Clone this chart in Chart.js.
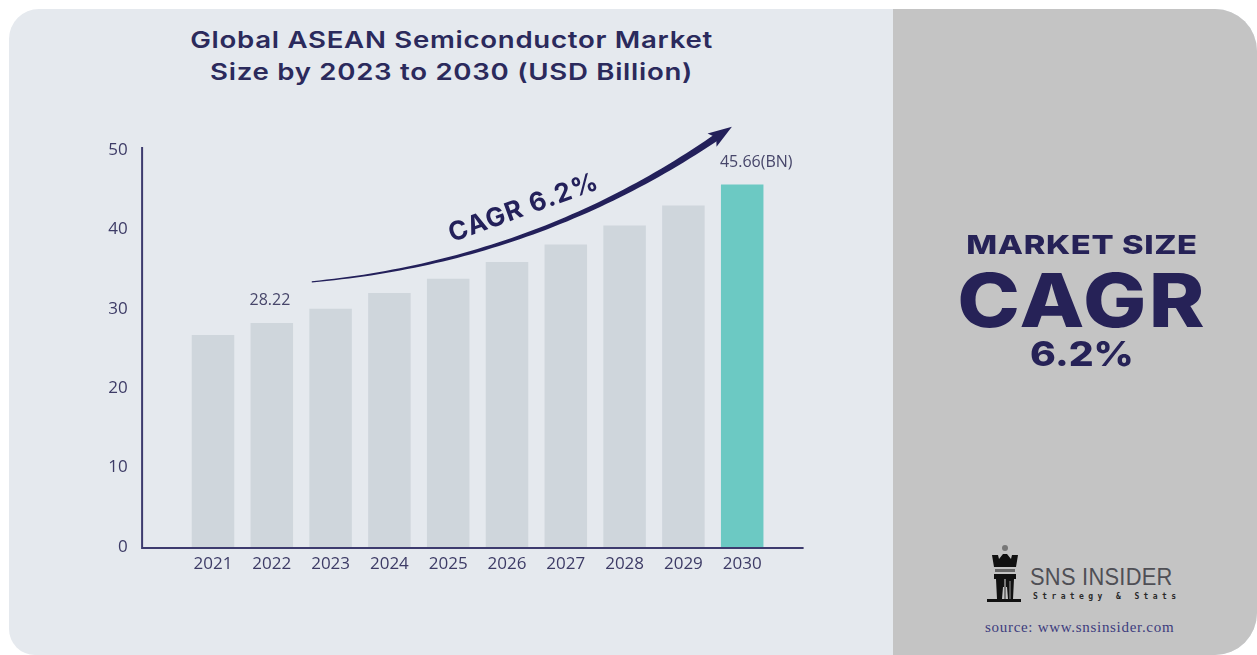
<!DOCTYPE html>
<html>
<head>
<meta charset="utf-8">
<title>Global ASEAN Semiconductor Market</title>
<script src="https://cdn.jsdelivr.net/npm/chart.js@4.4.1/dist/chart.umd.min.js"></script>
<style>
  html, body { margin: 0; padding: 0; background: #ffffff; }
  body { width: 1257px; height: 655px; position: relative; overflow: hidden; font-family: Inter, "Open Sans", sans-serif; }
  .card { position: absolute; left: 9px; top: 9px; width: 1248px; height: 646px; background: #e5e9ee;
          border-radius: 30px 42px 42px 26px; overflow: hidden; }
  .side { position: absolute; left: 884px; top: 0; right: 0; bottom: 0; background: #c4c4c4; }
  .title { position: absolute; left: 0; width: 903px; top: 24px; text-align: center; color: #2b2a5c;
           font-weight: 600; font-size: 23px; line-height: 32px; letter-spacing: 0.6px;
           transform: scaleX(1.2); transform-origin: 451px 0; }
  #wrap { position: absolute; left: 0; top: 0; width: 892px; height: 655px; }
  .big { position: absolute; left: 893px; width: 378px; text-align: center; color: #262257; font-weight: 800;
         transform-origin: 189px 0; }
  .logo-t { position: absolute; left: 1030px; top: 563px; font-family: "Liberation Sans", sans-serif; font-size: 24px;
            color: #4f4f55; transform: scaleX(0.91); transform-origin: left top; letter-spacing: 0.3px; }
  .logo-s { position: absolute; left: 1033px; top: 592px; font-family: "DejaVu Sans Mono", monospace; font-size: 8px;
            font-weight: bold; color: #2a2a2a; letter-spacing: 4.4px; }
  .src { position: absolute; left: 985px; top: 619px; font-family: "Liberation Serif", serif; font-size: 15px;
         letter-spacing: 0.7px; color: #3d3c7e; }
</style>
</head>
<body>
<div class="card"><div class="side"></div></div>
<div class="title">Global ASEAN Semiconductor Market<br>Size by 2023 to 2030 (USD Billion)</div>
<div id="wrap"><canvas id="chart" width="892" height="655"></canvas></div>

<div class="big" style="top:229px;font-size:26px;letter-spacing:0.5px;transform:scaleX(1.26);">MARKET SIZE</div>
<div class="big" style="top:257px;font-size:74px;line-height:86px;letter-spacing:2px;transform:scaleX(1.14);">CAGR</div>
<div class="big" style="top:334px;font-size:34px;line-height:40px;transform:scaleX(1.15);">6.2%</div>

<svg style="position:absolute;left:986px;top:543px" width="42" height="64" viewBox="0 0 42 64">
  <circle cx="19" cy="5" r="3" fill="#777"/>
  <path d="M6 12 L12 12 L13 16 L17 11 L21 11 L25 16 L26 12 L32 12 L30 24 L8 24 Z" fill="#111"/>
  <rect x="9" y="26" width="20" height="3" fill="#666"/>
  <rect x="8" y="31" width="22" height="5" fill="#111"/>
  <path d="M10 36 L28 36 L27 56 L22 56 L21 44 L17 44 L16 56 L11 56 Z" fill="#111"/>
  <rect x="18" y="36" width="2" height="22" fill="#777"/>
  <rect x="23" y="38" width="2" height="20" fill="#555"/>
  <rect x="1" y="56" width="34" height="3" fill="#111"/>
</svg>
<div class="logo-t">SNS INSIDER</div>
<div class="logo-s">Strategy &amp; Stats</div>
<div class="src">source: www.snsinsider.com</div>

<script>
  var years = ["2021", "2022", "2023", "2024", "2025", "2026", "2027", "2028", "2029", "2030"];
  var marketSize = [26.7, 28.22, 30.0, 32.0, 33.8, 35.9, 38.1, 40.5, 43.0, 45.66];
  var valueLabels = ["", "28.22", "", "", "", "", "", "", "", "45.66(BN)"];
  var yTicks = [0, 10, 20, 30, 40, 50];
  var cagrText = "CAGR 6.2%";

  var barColors = years.map(function (y, i) {
    return i === years.length - 1 ? "#6cc9c3" : "#cfd6dc";
  });

  var axisLines = {
    id: "axisLines",
    afterDraw: function (chart) {
      var ctx = chart.ctx, a = chart.chartArea;
      ctx.save();
      ctx.strokeStyle = "#3d3b6e";
      ctx.lineWidth = 2;
      ctx.beginPath();
      ctx.moveTo(a.left - 41.5, a.top - 3);
      ctx.lineTo(a.left - 41.5, a.bottom + 1);
      ctx.lineTo(a.right + 32, a.bottom + 1);
      ctx.stroke();
      ctx.restore();
    }
  };

  var barLabels = {
    id: "barLabels",
    afterDatasetsDraw: function (chart) {
      var ctx = chart.ctx;
      var meta = chart.getDatasetMeta(0);
      ctx.save();
      ctx.font = "16px 'Open Sans'";
      ctx.fillStyle = "#47466a";
      ctx.textAlign = "left";
      ctx.textBaseline = "bottom";
      meta.data.forEach(function (bar, i) {
        if (!valueLabels[i]) return;
        ctx.fillText(valueLabels[i], bar.x - bar.width / 2 - 1, bar.y - 14);
      });
      ctx.restore();
    }
  };

  // tapered growth arrow with the CAGR caption
  var cagrArrow = {
    id: "cagrArrow",
    afterDraw: function (chart) {
      var ctx = chart.ctx, x = chart.scales.x, y = chart.scales.y;
      var p0 = { x: x.getPixelForValue(1.68), y: y.getPixelForValue(33.4) };
      var p1 = { x: x.getPixelForValue(5.5), y: y.getPixelForValue(36.0) };
      var p2 = { x: x.getPixelForValue(8.6), y: y.getPixelForValue(51.8) };
      function pt(t) {
        var u = 1 - t;
        return { x: u * u * p0.x + 2 * u * t * p1.x + t * t * p2.x, y: u * u * p0.y + 2 * u * t * p1.y + t * t * p2.y };
      }
      var top = [], bot = [], n = 60;
      for (var i = 0; i <= n; i++) {
        var t = i / n, a = pt(t), b = pt(Math.min(1, t + 0.001)), c = pt(Math.max(0, t - 0.001));
        var dx = b.x - c.x, dy = b.y - c.y, len = Math.sqrt(dx * dx + dy * dy);
        var w = 0.6 + 2.8 * t;
        top.push({ x: a.x + dy / len * w, y: a.y - dx / len * w });
        bot.push({ x: a.x - dy / len * w, y: a.y + dx / len * w });
      }
      ctx.save();
      ctx.fillStyle = "#23205a";
      ctx.beginPath();
      ctx.moveTo(top[0].x, top[0].y);
      top.forEach(function (p) { ctx.lineTo(p.x, p.y); });
      for (var j = bot.length - 1; j >= 0; j--) ctx.lineTo(bot[j].x, bot[j].y);
      ctx.closePath();
      ctx.fill();
      // head
      var e = pt(1), d = pt(0.97);
      var ang = Math.atan2(e.y - d.y, e.x - d.x);
      ctx.translate(e.x, e.y);
      ctx.rotate(ang);
      ctx.beginPath();
      ctx.moveTo(16, 0);
      ctx.lineTo(-8, -8);
      ctx.lineTo(-3, 0);
      ctx.lineTo(-8, 8);
      ctx.closePath();
      ctx.fill();
      ctx.restore();

      ctx.save();
      var tc = pt(0.5);
      ctx.translate(tc.x - 2, tc.y - 27);
      ctx.rotate(-20 * Math.PI / 180);
      ctx.font = "700 26px Inter";
      ctx.letterSpacing = "1.2px";
      ctx.fillStyle = "#23205a";
      ctx.textAlign = "center";
      ctx.textBaseline = "middle";
      ctx.fillText(cagrText, 0, 0);
      ctx.restore();
    }
  };

  new Chart(document.getElementById("chart"), {
    type: "bar",
    data: {
      labels: years,
      datasets: [{ data: marketSize, backgroundColor: barColors, borderWidth: 0,
                   barPercentage: 0.723, categoryPercentage: 1 }]
    },
    options: {
      responsive: false,
      devicePixelRatio: 1,
      animation: false,
      layout: { padding: { top: 150, right: 120.4, left: 0, bottom: 0 } },
      plugins: { legend: { display: false }, tooltip: { enabled: false }, title: { display: false } },
      scales: {
        x: {
          grid: { display: false, drawTicks: false },
          border: { display: false },
          ticks: { color: "#3d3b66", font: { family: "'Open Sans'", size: 17 }, padding: 7 },
          afterFit: function (s) { s.height = 108; }
        },
        y: {
          min: 0, max: 50,
          grid: { display: false, drawTicks: false },
          border: { display: false },
          afterBuildTicks: function (s) { s.ticks = yTicks.map(function (v) { return { value: v }; }); },
          ticks: { color: "#3d3b66", font: { family: "'Open Sans'", size: 17 }, padding: 56 },
          afterFit: function (s) { s.width = 183.6; }
        }
      }
    },
    plugins: [axisLines, barLabels, cagrArrow]
  });
</script>
</body>
</html>
